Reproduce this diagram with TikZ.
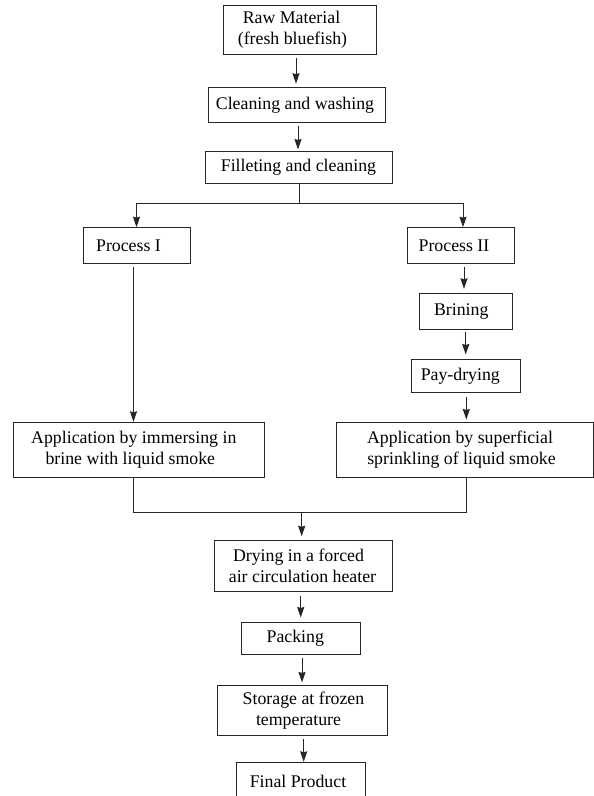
\documentclass[tikz,border=0pt]{standalone}
\usepackage{fontspec}
\setmainfont{Liberation Serif}
\usetikzlibrary{arrows.meta,calc}
\begin{document}
\begin{tikzpicture}[x=1pt,y=-1pt,
  box/.style={draw=black!85,line width=1pt,inner sep=0pt,align=center,
    font=\fontsize{17.8}{21}\selectfont},
  conn/.style={draw=black!85,line width=1pt},
  arr/.style={conn,-{Stealth[length=10.5pt,width=7pt,inset=1pt]}}]
\useasboundingbox (0,0) rectangle (594,796);
\fill[white] (0,0) rectangle (594,796);

\node[box,minimum width=153pt,minimum height=49pt] (raw) at (299.5,29.5)
  {Raw Material\hspace*{16pt}\\(fresh bluefish)\hspace*{14pt}};
\node[box,minimum width=177pt,minimum height=35pt] (clean) at (296.5,105.2)
  {Cleaning and washing\hspace*{3pt}};
\node[box,minimum width=187pt,minimum height=31.6pt] (fillet) at (298.5,167.5)
  {Filleting and cleaning};
\node[box,minimum width=107pt,minimum height=35.6pt] (p1) at (136.5,245.5)
  {Process I\hspace*{16pt}};
\node[box,minimum width=107.4pt,minimum height=35.6pt] (p2) at (461,245.5)
  {Process II\hspace*{14pt}};
\node[box,minimum width=93.3pt,minimum height=36pt] (brin) at (465.7,311.3)
  {Brining\hspace*{9pt}};
\node[box,minimum width=109.3pt,minimum height=33.4pt] (pay) at (466.3,376)
  {Pay-drying\hspace*{12pt}};
\node[box,minimum width=251pt,minimum height=55pt] (appL) at (138.8,449.8)
  {Application by immersing in\hspace*{10pt}\\brine with liquid smoke\hspace*{17pt}};
\node[box,minimum width=257pt,minimum height=55pt] (appR) at (464.5,449.8)
  {Application by superficial\hspace*{9pt}\\sprinkling of liquid smoke\hspace*{6pt}};
\node[box,minimum width=177.6pt,minimum height=50.7pt] (dry) at (303.5,565.7)
  {Drying in a forced\hspace*{10pt}\\air circulation heater\hspace*{2pt}};
\node[box,minimum width=119.3pt,minimum height=32.4pt] (pack) at (301.3,638.5)
  {Packing\hspace*{12pt}};
\node[box,minimum width=170pt,minimum height=50.3pt] (stor) at (302,710.8)
  {\hspace*{3pt}Storage at frozen\\temperature\hspace*{7pt}};
\node[box,minimum width=128.6pt,minimum height=38pt] (final) at (301,781.3)
  {Final Product\hspace*{6pt}};

% top chain
\draw[arr,shorten <=3pt,shorten >=3.5pt] ([xshift=-3.5pt]raw.south) -- ([xshift=-3.5pt]raw.south |- clean.north);
\draw[arr,shorten <=2.3pt,shorten >=1.7pt] ([xshift=1.5pt]clean.south) -- ([xshift=1.5pt]clean.south |- fillet.north);

% split
\coordinate (split) at (299,203);
\draw[conn] (fillet.south -| split) -- (split);
\draw[arr] (split) -| (p1.north);
\draw[arr] (split) -| ([xshift=2pt]p2.north);

% left branch
\draw[arr,shorten <=2.7pt] ([xshift=-3pt]p1.south) -- ([xshift=-3pt]p1.south |- appL.north);

% right branch
\draw[arr,shorten <=2.7pt,shorten >=4pt] ([xshift=3pt]p2.south) -- ([xshift=3pt]p2.south |- brin.north);
\draw[arr,shorten <=2.4pt,shorten >=4.3pt] (brin.south) -- (brin.south |- pay.north);
\draw[arr,shorten <=3.3pt,shorten >=2.3pt] (pay.south) -- (pay.south |- appR.north);

% merge
\coordinate (merge) at (301.7,512.7);
\draw[conn] ([xshift=-5.8pt]appL.south) |- (merge) -| ([xshift=1.5pt]appR.south);
\draw[arr,shorten >=3.6pt] (merge) -- (merge |- dry.north);

% bottom chain
\draw[arr,shorten <=4pt,shorten >=4.3pt] ([xshift=-2.8pt]dry.south) -- ([xshift=-2.8pt]dry.south |- pack.north);
\draw[arr,shorten <=2.3pt,shorten >=2.7pt] ([xshift=0.7pt]pack.south) -- ([xshift=0.7pt]pack.south |- stor.north);
\draw[arr,shorten <=3pt] ([xshift=1.7pt]stor.south) -- ([xshift=1.7pt]stor.south |- final.north);
\end{tikzpicture}
\end{document}
